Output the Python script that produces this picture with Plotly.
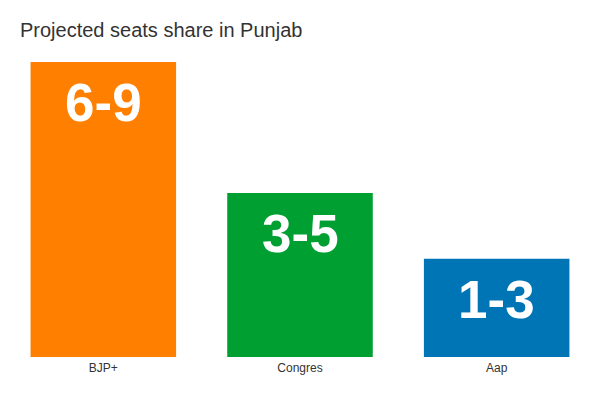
import plotly.graph_objects as go

parties = ["BJP+", "Congres", "Aap"]
seats_high = [9, 5, 3]
seat_ranges = ["6-9", "3-5", "1-3"]
bar_colors = ["#FF7F00", "#009F32", "#0075B5"]

fig = go.Figure()

fig.add_trace(
    go.Bar(
        x=parties,
        y=seats_high,
        marker=dict(color=bar_colors, line=dict(width=0)),
        hoverinfo="skip",
    )
)

# big range labels sitting near the top of each bar
for party, top, label in zip(parties, seats_high, seat_ranges):
    fig.add_annotation(
        x=party,
        y=top,
        text=label,
        showarrow=False,
        yanchor="top",
        yshift=-9,
        font=dict(family="Liberation Sans, Arial, sans-serif", size=53, color="white", weight="bold"),
    )

fig.update_layout(
    width=600,
    height=400,
    margin=dict(l=5, r=5, t=62, b=43),
    paper_bgcolor="white",
    plot_bgcolor="white",
    bargap=0.26,
    showlegend=False,
    title=dict(
        text="Projected seats share in Punjab",
        x=20 / 600,
        xanchor="left",
        xref="container",
        y=1 - 30 / 400,
        yanchor="middle",
        font=dict(family="Liberation Sans, Arial, sans-serif", size=20, color="#333333"),
    ),
    font=dict(family="Liberation Sans, Arial, sans-serif", color="#333333"),
)

fig.update_xaxes(
    showgrid=False,
    showline=False,
    zeroline=False,
    ticks="",
    ticklabelstandoff=2,
    tickfont=dict(size=12, color="#333333"),
)
fig.update_yaxes(
    range=[0, 9],
    visible=False,
    showgrid=False,
    zeroline=False,
)

# page body has an 8px default margin; drop it so the chart sits at 0,0
fig.write_html(
    "out.html",
    config={"displayModeBar": False},
    post_script="document.body.style.margin='0';",
)
